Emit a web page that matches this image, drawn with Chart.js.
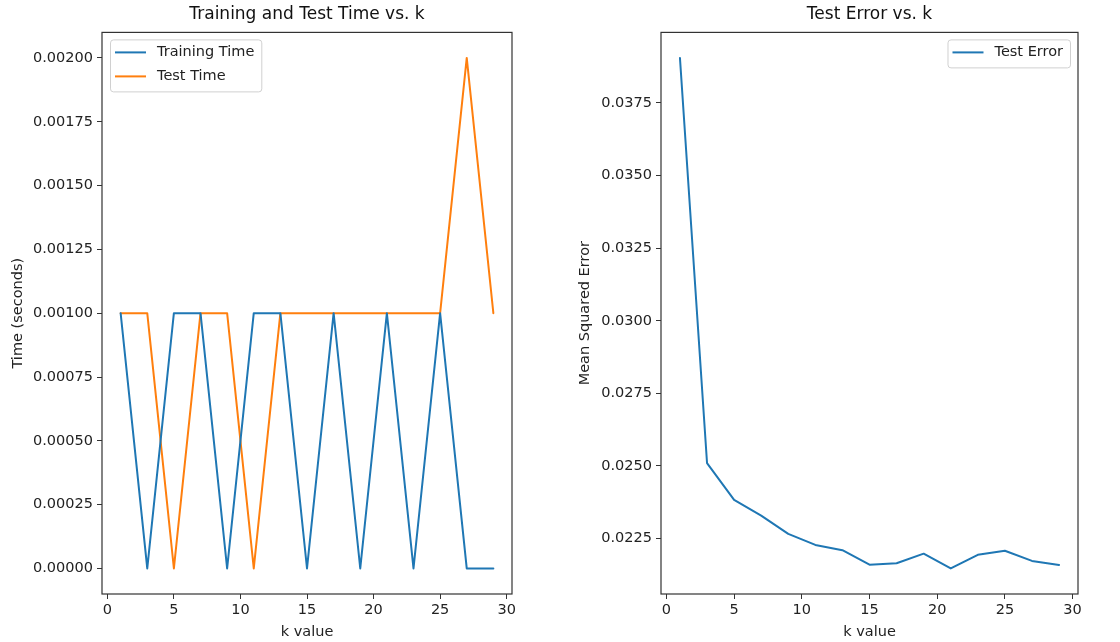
<!DOCTYPE html>
<html>
<head>
<meta charset="utf-8">
<script src="https://cdn.jsdelivr.net/npm/chart.js@4.4.1/dist/chart.umd.min.js"></script>
<style>
  body { margin: 0; background: #fff; }
  #wrap { position: relative; width: 1120px; height: 642px; }
  canvas { position: absolute; top: 0; }
  #c1 { left: 0; }
  #c2 { left: 560px; }
</style>
</head>
<body>
<div id="wrap">
  <canvas id="c1" width="560" height="642"></canvas>
  <canvas id="c2" width="560" height="642"></canvas>
</div>
<script>
// dados
const kValues = [1, 3, 5, 7, 9, 11, 13, 15, 17, 19, 21, 23, 25, 27, 29];
const trainingTime = [0.001, 0, 0.001, 0.001, 0, 0.001, 0.001, 0, 0.001, 0, 0.001, 0, 0.001, 0, 0];
const testTime = [0.001, 0.001, 0, 0.001, 0.001, 0, 0.001, 0.001, 0.001, 0.001, 0.001, 0.001, 0.001, 0.002, 0.001];
const testError = [0.03905, 0.0251, 0.02383, 0.02329, 0.02266, 0.02228, 0.0221, 0.0216, 0.02165,
                   0.02198, 0.02147, 0.02194, 0.02208, 0.02173, 0.02159];

const kTicks = [0, 5, 10, 15, 20, 25, 30];
const timeTicks = [0, 0.00025, 0.0005, 0.00075, 0.001, 0.00125, 0.0015, 0.00175, 0.002];
const errorTicks = [0.0225, 0.025, 0.0275, 0.03, 0.0325, 0.035, 0.0375];

const FONT = "'DejaVu Sans', sans-serif";
Chart.defaults.font.family = FONT;
Chart.defaults.color = '#222';

const colors = { blue: '#1f77b4', orange: '#ff7f0e' };

function toXY(xs, ys) {
    return xs.map((x, i) => ({ x: x, y: ys[i] }));
}

// moldura em volta da área do gráfico (estilo matplotlib)
const frame = {
    id: 'frame',
    afterDraw(chart) {
        const { ctx, chartArea: a } = chart;
        ctx.save();
        ctx.strokeStyle = '#333';
        ctx.lineWidth = 1.2;
        ctx.strokeRect(a.left, a.top, a.right - a.left, a.bottom - a.top);
        ctx.restore();
    }
};

// legenda dentro da área, com caixa
const boxLegend = {
    id: 'boxLegend',
    afterDraw(chart, args, opts) {
        const { ctx, chartArea: a } = chart;
        const items = chart.data.datasets;
        ctx.save();
        ctx.font = '14.5px ' + FONT;
        const textW = Math.max(...items.map(d => ctx.measureText(d.label).width));
        const rowH = 24;
        const w = 47 + textW + 7;
        const h = items.length * rowH + 4;
        const x = opts.align === 'right' ? a.right - 8 - w : a.left + 8;
        const y = a.top + 7;
        ctx.fillStyle = 'rgba(255,255,255,0.85)';
        ctx.strokeStyle = '#d0d0d0';
        ctx.lineWidth = 1;
        ctx.beginPath();
        ctx.roundRect(x + 0.5, y + 0.5, w, h, 3);
        ctx.fill();
        ctx.stroke();
        items.forEach((d, i) => {
            const cy = y + 13 + i * rowH;
            ctx.strokeStyle = d.borderColor;
            ctx.lineWidth = 2;
            ctx.beginPath();
            ctx.moveTo(x + 5, cy);
            ctx.lineTo(x + 36, cy);
            ctx.stroke();
            ctx.fillStyle = '#222';
            ctx.textBaseline = 'middle';
            ctx.fillText(d.label, x + 47, cy);
        });
        ctx.restore();
    }
};

function makeOptions(title, yTitle, yMin, yMax, yTickList, decimals, legendAlign, yWidth, yTitlePad, padRight) {
    return {
        responsive: false,
        animation: false,
        layout: { padding: { left: 0, right: padRight, top: 0, bottom: 0 } },
        elements: {
            point: { radius: 0 },
            line: { borderWidth: 2, tension: 0, borderJoinStyle: 'round', borderCapStyle: 'round' }
        },
        plugins: {
            legend: { display: false },
            tooltip: { enabled: false },
            title: {
                display: true, text: title, fullSize: false,
                color: '#111', font: { size: 17, weight: 'normal' },
                padding: { top: 4, bottom: 8 }
            },
            boxLegend: { align: legendAlign }
        },
        scales: {
            x: {
                type: 'linear', min: -0.4, max: 30.4,
                afterBuildTicks: s => { s.ticks = kTicks.map(v => ({ value: v })); },
                afterFit: s => { s.height = 48; },
                ticks: { font: { size: 14.5 }, padding: 3, maxRotation: 0, autoSkip: false },
                grid: { drawOnChartArea: false, drawTicks: true, tickLength: 5, tickColor: '#333' },
                border: { display: false },
                title: { display: true, text: 'k value', font: { size: 14.5 }, padding: { top: 0, bottom: 1 } }
            },
            y: {
                min: yMin, max: yMax,
                afterBuildTicks: s => { s.ticks = yTickList.map(v => ({ value: v })); },
                afterFit: s => { s.width = yWidth; },
                ticks: { font: { size: 14.5 }, padding: 4, autoSkip: false, callback: v => v.toFixed(decimals) },
                grid: { drawOnChartArea: false, drawTicks: true, tickLength: 5, tickColor: '#333' },
                border: { display: false },
                title: { display: true, text: yTitle, font: { size: 14.5 }, padding: { top: yTitlePad, bottom: 0 } }
            }
        }
    };
}

new Chart(document.getElementById('c1').getContext('2d'), {
    type: 'line',
    data: {
        datasets: [{
            label: 'Training Time',
            data: toXY(kValues, trainingTime),
            borderColor: colors.blue,
            backgroundColor: colors.blue
        }, {
            label: 'Test Time',
            data: toXY(kValues, testTime),
            borderColor: colors.orange,
            backgroundColor: colors.orange
        }]
    },
    options: makeOptions('Training and Test Time vs. k', 'Time (seconds)', -0.0001, 0.0021,
                         timeTicks, 5, 'left', 102, 10, 48),
    plugins: [frame, boxLegend]
});

new Chart(document.getElementById('c2').getContext('2d'), {
    type: 'line',
    data: {
        datasets: [{
            label: 'Test Error',
            data: toXY(kValues, testError),
            borderColor: colors.blue,
            backgroundColor: colors.blue
        }]
    },
    options: makeOptions('Test Error vs. k', 'Mean Squared Error', 0.02059, 0.03993,
                         errorTicks, 4, 'right', 101, 17, 42),
    plugins: [frame, boxLegend]
});
</script>
</body>
</html>
